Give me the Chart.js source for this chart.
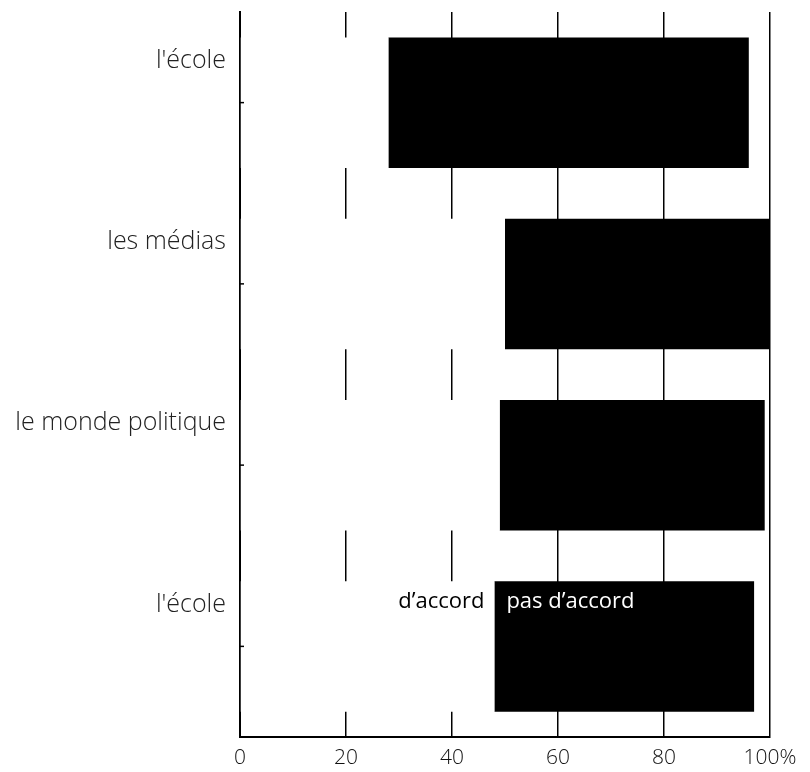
<!DOCTYPE html>
<html>
<head>
<meta charset="utf-8">
<script src="https://cdn.jsdelivr.net/npm/chart.js@4/dist/chart.umd.min.js"></script>
<style>
  html, body { margin:0; padding:0; background:#fff; }
  #wrap { width:810px; height:772px; }
</style>
</head>
<body>
<div id="wrap"><canvas id="chart" width="810" height="772"></canvas></div>
<script>
// Données
const categories = ["l'école", "les médias", "le monde politique", "l'école"];
const daccord = [28, 50, 49, 48];      // partie blanche
const pasDaccord = [68, 50, 50, 49];   // partie noire
const xTicks = [0, 20, 40, 60, 80, 100];

const fontFam = "'Open Sans', 'Noto Sans', sans-serif";

// étiquettes de catégories au-dessus du centre de la barre + petits traits
const labelsPlugin = {
  id: 'labelsPlugin',
  afterDraw(chart){
    const ctx = chart.ctx, y = chart.scales.y, area = chart.chartArea;
    ctx.save();
    ctx.font = "300 25px " + fontFam;
    ctx.fillStyle = '#222';
    ctx.textAlign = 'right';
    ctx.textBaseline = 'middle';
    categories.forEach((c, i) => {
      const py = y.getPixelForValue(i);
      ctx.fillText(c, area.left - 14, py - 42);
      ctx.beginPath();
      ctx.moveTo(area.left, py);
      ctx.lineTo(area.left + 4, py);
      ctx.strokeStyle = '#000';
      ctx.lineWidth = 1.5;
      ctx.stroke();
    });
    // légende dans la dernière barre
    const bar = chart.getDatasetMeta(1).data[3];
    const ty = bar.y - bar.height / 2 + 21;
    ctx.font = "22px " + fontFam;
    ctx.fillStyle = '#000';
    ctx.textAlign = 'right';
    ctx.fillText("d’accord", bar.base - 10, ty);
    ctx.fillStyle = '#fff';
    ctx.textAlign = 'left';
    ctx.fillText("pas d’accord", bar.base + 12, ty);
    ctx.restore();
  }
};

new Chart(document.getElementById('chart'), {
  type: 'bar',
  data: {
    labels: categories,
    datasets: [
      { label: "d'accord", data: daccord, backgroundColor: '#fff', borderWidth: 0 },
      { label: "pas d'accord", data: pasDaccord, backgroundColor: '#000', borderWidth: 0 }
    ]
  },
  options: {
    indexAxis: 'y',
    responsive: false,
    animation: false,
    devicePixelRatio: 1,
    layout: { padding: { top: 12, right: 40, left: 0, bottom: 0 } },
    categoryPercentage: 0.72,
    barPercentage: 1,
    plugins: { legend: { display: false }, tooltip: { enabled: false } },
    scales: {
      x: {
        stacked: true,
        min: 0, max: 100,
        afterBuildTicks: s => { s.ticks = xTicks.map(v => ({ value: v })); },
        afterFit: s => { s.height = 35; },
        grid: { color: '#000', lineWidth: 1.5, drawTicks: false },
        border: { color: '#000', width: 2 },
        ticks: {
          padding: 8,
          color: '#111',
          font: { family: fontFam, size: 21, weight: '300' },
          callback: v => v === 100 ? '100%' : v
        }
      },
      y: {
        stacked: true,
        afterFit: s => { s.width = 240; },
        grid: { display: false },
        border: { color: '#000', width: 2 },
        ticks: { display: false }
      }
    }
  },
  plugins: [labelsPlugin]
});
</script>
</body>
</html>
